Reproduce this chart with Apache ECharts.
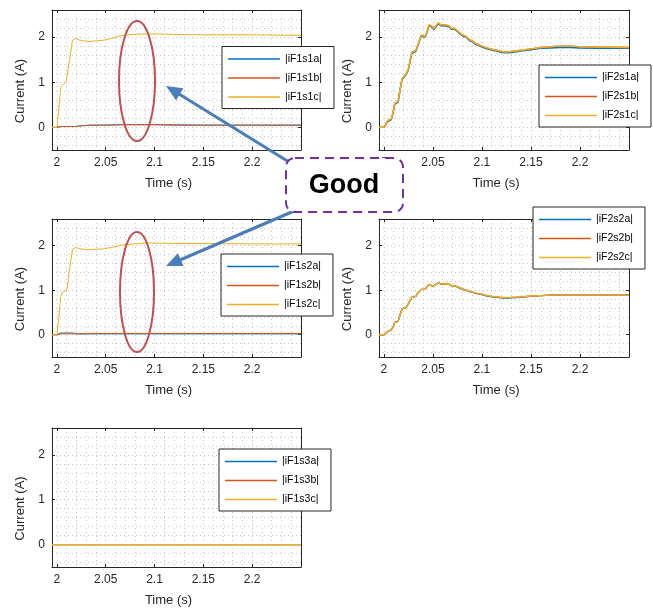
<!DOCTYPE html>
<html><head><meta charset="utf-8">
<script src="https://cdn.jsdelivr.net/npm/echarts@6/dist/echarts.min.js"></script>
<style>html,body{margin:0;padding:0;background:#fff}#c{width:653px;height:609px}</style>
</head><body><div id="c"></div>
<script>
// ---------- data ----------
const timeTicks = [2, 2.05, 2.1, 2.15, 2.2];
const currentTicks = [0, 1, 2];

// F1 switch currents (panels 1 and 3)
const tF1 = [1.995, 2.0, 2.0015, 2.004, 2.0055, 2.0095, 2.0105, 2.013, 2.016, 2.019, 2.022, 2.027, 2.034, 2.041, 2.048, 2.056, 2.065, 2.078, 2.09, 2.1, 2.12, 2.15, 2.2, 2.25];
const iF1s1a = [0, 0, 0.01, 0.02, 0.02, 0.02, 0.02, 0.02, 0.02, 0.02, 0.03, 0.04, 0.05, 0.05, 0.05, 0.05, 0.06, 0.06, 0.06, 0.06, 0.05, 0.05, 0.05, 0.05];
const iF1s1b = [0, 0, 0.01, 0.02, 0.02, 0.02, 0.02, 0.02, 0.02, 0.02, 0.03, 0.04, 0.05, 0.05, 0.05, 0.06, 0.06, 0.06, 0.06, 0.06, 0.06, 0.05, 0.05, 0.05];
const iF1s1c = [0, 0, 0.3, 0.88, 0.93, 1.02, 1.06, 1.5, 1.93, 1.97, 1.94, 1.92, 1.90, 1.92, 1.93, 1.97, 2.03, 2.06, 2.07, 2.07, 2.06, 2.05, 2.05, 2.04];
const iF1s2a = [0, 0, 0.03, 0.04, 0.04, 0.04, 0.04, 0.04, 0.04, 0.03, 0.02, 0.02, 0.02, 0.02, 0.02, 0.02, 0.02, 0.02, 0.02, 0.02, 0.02, 0.02, 0.02, 0.02];
const iF1s2b = [0, 0, 0.01, 0.02, 0.02, 0.02, 0.02, 0.02, 0.02, 0.02, 0.02, 0.02, 0.03, 0.03, 0.03, 0.03, 0.03, 0.03, 0.03, 0.03, 0.03, 0.03, 0.03, 0.03];
const iF1s2c = [0, 0, 0.28, 0.86, 0.95, 1.0, 1.05, 1.48, 1.92, 1.96, 1.94, 1.92, 1.91, 1.92, 1.93, 1.96, 2.01, 2.04, 2.06, 2.06, 2.05, 2.05, 2.04, 2.04];

// F2 switch currents (panels 2 and 4)
const tF2 = [1.995, 2.0, 2.002, 2.004, 2.0075, 2.0095, 2.011, 2.0145, 2.0165, 2.0185, 2.0225, 2.025, 2.0285, 2.0325, 2.035, 2.038, 2.042, 2.044, 2.046, 2.0485, 2.051, 2.0535, 2.0557, 2.058, 2.06, 2.062, 2.064, 2.0665, 2.069, 2.0725, 2.076, 2.08, 2.0835, 2.087, 2.0905, 2.0935, 2.097, 2.1, 2.105, 2.11, 2.115, 2.12, 2.125, 2.13, 2.14, 2.15, 2.16, 2.17, 2.18, 2.19, 2.2, 2.22, 2.25];
const iF2s1a = [0, 0, 0.01, 0.13, 0.17, 0.33, 0.51, 0.56, 0.83, 1.06, 1.16, 1.28, 1.64, 1.68, 1.83, 2.02, 2.0, 2.10, 2.25, 2.23, 2.17, 2.24, 2.30, 2.25, 2.21, 2.25, 2.28, 2.23, 2.17, 2.17, 2.10, 2.03, 2.0, 1.93, 1.89, 1.84, 1.81, 1.78, 1.74, 1.71, 1.69, 1.66, 1.65, 1.66, 1.69, 1.72, 1.75, 1.76, 1.77, 1.77, 1.76, 1.75, 1.75];
const iF2s1b = [0, 0, 0.02, 0.15, 0.19, 0.35, 0.53, 0.58, 0.85, 1.08, 1.18, 1.30, 1.66, 1.70, 1.85, 2.04, 2.02, 2.12, 2.27, 2.25, 2.19, 2.26, 2.32, 2.27, 2.23, 2.27, 2.30, 2.25, 2.19, 2.19, 2.12, 2.05, 2.02, 1.95, 1.91, 1.86, 1.83, 1.80, 1.76, 1.73, 1.71, 1.68, 1.67, 1.68, 1.71, 1.74, 1.77, 1.79, 1.80, 1.80, 1.79, 1.78, 1.77];
const iF2s1c = [0, 0, 0.02, 0.15, 0.19, 0.35, 0.53, 0.58, 0.85, 1.08, 1.18, 1.30, 1.66, 1.70, 1.85, 2.04, 2.02, 2.12, 2.27, 2.25, 2.19, 2.26, 2.32, 2.27, 2.23, 2.27, 2.30, 2.25, 2.19, 2.19, 2.12, 2.05, 2.02, 1.95, 1.91, 1.86, 1.83, 1.80, 1.76, 1.73, 1.71, 1.68, 1.67, 1.68, 1.71, 1.74, 1.77, 1.79, 1.80, 1.80, 1.79, 1.78, 1.77];
const iF2s2a = [0, 0, 0.01, 0.07, 0.11, 0.18, 0.28, 0.30, 0.45, 0.58, 0.61, 0.70, 0.84, 0.86, 0.95, 1.02, 1.02, 1.08, 1.13, 1.10, 1.10, 1.14, 1.17, 1.14, 1.12, 1.14, 1.15, 1.13, 1.10, 1.10, 1.06, 1.02, 1.0, 0.97, 0.95, 0.93, 0.91, 0.90, 0.87, 0.85, 0.84, 0.83, 0.82, 0.83, 0.84, 0.86, 0.88, 0.89, 0.89, 0.89, 0.89, 0.89, 0.89];
const iF2s2b = [0, 0, 0.01, 0.07, 0.11, 0.18, 0.28, 0.30, 0.45, 0.58, 0.61, 0.70, 0.84, 0.86, 0.95, 1.02, 1.02, 1.08, 1.13, 1.10, 1.10, 1.14, 1.17, 1.14, 1.12, 1.14, 1.15, 1.13, 1.10, 1.10, 1.07, 1.03, 1.01, 0.98, 0.96, 0.94, 0.92, 0.91, 0.88, 0.86, 0.85, 0.84, 0.83, 0.84, 0.85, 0.87, 0.88, 0.89, 0.89, 0.89, 0.89, 0.89, 0.89];
const iF2s2c = [0, 0, 0.01, 0.07, 0.11, 0.18, 0.28, 0.30, 0.45, 0.58, 0.61, 0.70, 0.84, 0.86, 0.95, 1.02, 1.02, 1.08, 1.13, 1.10, 1.10, 1.14, 1.17, 1.14, 1.12, 1.14, 1.15, 1.13, 1.10, 1.10, 1.07, 1.03, 1.01, 0.98, 0.96, 0.94, 0.92, 0.91, 0.88, 0.86, 0.85, 0.84, 0.83, 0.84, 0.85, 0.87, 0.88, 0.89, 0.89, 0.89, 0.89, 0.89, 0.89];

// F1 s3 currents (panel 5)
const tF3 = [1.995, 2.0, 2.1, 2.2, 2.25];
const iF1s3a = [0, 0, 0, 0, 0];
const iF1s3b = [0, 0, 0, 0, 0];
const iF1s3c = [0, 0, 0, 0, 0];

// ---------- layout / style ----------
const FONT = '"Liberation Sans", Arial, sans-serif';
const AX = '#262626';
const GRIDC = '#c6c6c6';
const COLORS = ['#0072BD', '#D95319', '#EDB120'];
const grids = [
  {left: 52, top: 10, width: 249, height: 140},
  {left: 379, top: 10, width: 250, height: 140},
  {left: 52, top: 219, width: 249, height: 138},
  {left: 379, top: 219, width: 250, height: 138},
  {left: 52, top: 428, width: 249, height: 139}
];
const XMIN = 1.995, XMAX = 2.25, YMIN = -0.5, YMAX = 2.6;
const timeGrid = [];
for (let k = 0; k <= 24; k++) timeGrid.push(+(2 + k * 0.01).toFixed(2));
const currentGrid = [];
for (let k = -2; k <= 13; k++) currentGrid.push(+(k * 0.2).toFixed(1));
const fmt = v => String(+(+v).toFixed(2));

const xAxes = [], yAxes = [];
grids.forEach((g, i) => {
  xAxes.push({
    gridIndex: i, type: 'value', min: XMIN, max: XMAX, position: 'bottom',
    axisLine: {show: true, onZero: false, lineStyle: {color: AX, width: 1}},
    axisTick: {show: true, inside: true, length: 3, customValues: timeTicks, lineStyle: {color: AX}},
    axisLabel: {customValues: timeTicks, formatter: fmt, margin: 7, fontSize: 12, color: AX, fontFamily: FONT},
    splitLine: {show: false},
    name: 'Time (s)', nameLocation: 'middle', nameGap: 27,
    nameTextStyle: {fontSize: 13, color: AX, fontFamily: FONT, padding: [0, 16, 0, 0]}
  });
  xAxes.push({
    gridIndex: i, type: 'value', min: XMIN, max: XMAX, position: 'top',
    axisLine: {show: true, onZero: false, lineStyle: {color: AX, width: 1}},
    axisTick: {show: true, inside: true, length: 3, customValues: timeTicks, lineStyle: {color: AX}},
    axisLabel: {show: false}, splitLine: {show: false}
  });
  xAxes.push({
    gridIndex: i, type: 'value', min: XMIN, max: XMAX, position: 'bottom',
    axisLine: {show: false}, axisTick: {show: false, customValues: timeGrid},
    axisLabel: {show: false},
    splitLine: {show: true, lineStyle: {color: GRIDC, width: 1, type: [1, 3]}}
  });
  yAxes.push({
    gridIndex: i, type: 'value', min: YMIN, max: YMAX, position: 'left',
    axisLine: {show: true, onZero: false, lineStyle: {color: AX, width: 1}},
    axisTick: {show: true, inside: true, length: 3, customValues: currentTicks, lineStyle: {color: AX}},
    axisLabel: {customValues: currentTicks, formatter: fmt, margin: 7, fontSize: 12, color: AX, fontFamily: FONT},
    splitLine: {show: false},
    name: 'Current (A)', nameLocation: 'middle', nameGap: 25,
    nameTextStyle: {fontSize: 13, color: AX, fontFamily: FONT, padding: [0, 22, 0, 0]}
  });
  yAxes.push({
    gridIndex: i, type: 'value', min: YMIN, max: YMAX, position: 'right',
    axisLine: {show: true, onZero: false, lineStyle: {color: AX, width: 1}},
    axisTick: {show: true, inside: true, length: 3, customValues: currentTicks, lineStyle: {color: AX}},
    axisLabel: {show: false}, splitLine: {show: false}
  });
  yAxes.push({
    gridIndex: i, type: 'value', min: YMIN, max: YMAX, position: 'left',
    axisLine: {show: false}, axisTick: {show: false, customValues: currentGrid},
    axisLabel: {show: false},
    splitLine: {show: true, lineStyle: {color: GRIDC, width: 1, type: [1, 3]}}
  });
});

const pairs = (t, v) => t.map((x, k) => [x, v[k]]);
const panels = [
  {t: tF1, names: ['|iF1s1a|', '|iF1s1b|', '|iF1s1c|'], vals: [iF1s1a, iF1s1b, iF1s1c], w: 1, legend: [222, 46.5]},
  {t: tF2, names: ['|iF2s1a|', '|iF2s1b|', '|iF2s1c|'], vals: [iF2s1a, iF2s1b, iF2s1c], w: 1.4, legend: [539, 65]},
  {t: tF1, names: ['|iF1s2a|', '|iF1s2b|', '|iF1s2c|'], vals: [iF1s2a, iF1s2b, iF1s2c], w: 1, legend: [221, 254]},
  {t: tF2, names: ['|iF2s2a|', '|iF2s2b|', '|iF2s2c|'], vals: [iF2s2a, iF2s2b, iF2s2c], w: 1.3, legend: [533, 207]},
  {t: tF3, names: ['|iF1s3a|', '|iF1s3b|', '|iF1s3c|'], vals: [iF1s3a, iF1s3b, iF1s3c], w: 1.3, legend: [219, 449]}
];
const series = [], legends = [];
panels.forEach((p, i) => {
  p.names.forEach((n, k) => {
    series.push({
      type: 'line', name: n, xAxisIndex: 3 * i, yAxisIndex: 3 * i,
      data: pairs(p.t, p.vals[k]), symbol: 'none', showSymbol: false,
      lineStyle: {width: p.w, color: COLORS[k]}, itemStyle: {color: COLORS[k]},
      z: 3 + k, animation: false
    });
  });
  legends.push({
    show: true, data: p.names, left: p.legend[0], top: p.legend[1], orient: 'vertical',
    itemWidth: 52, itemHeight: 1.5, itemGap: 6, icon: 'rect',
    padding: [6, 12, 5, 6], backgroundColor: '#fff', borderColor: AX, borderWidth: 1, borderRadius: 0,
    selectedMode: false,
    textStyle: {fontSize: 10.5, lineHeight: 13, color: '#000', fontFamily: FONT}
  });
});

const ARROW = '#4A7EBB', RED = '#C0504D', PURPLE = '#7030A0';
const graphic = [
  {type: 'ellipse', shape: {cx: 137, cy: 81, rx: 18, ry: 60}, style: {fill: null, stroke: RED, lineWidth: 2}, z: 100},
  {type: 'ellipse', shape: {cx: 137, cy: 292, rx: 17, ry: 60}, style: {fill: null, stroke: RED, lineWidth: 2}, z: 100},
  {type: 'line', shape: {x1: 289, y1: 162, x2: 179, y2: 94}, style: {stroke: ARROW, lineWidth: 3}, z: 100},
  {type: 'polygon', shape: {points: [[166, 86], [183.3, 88.3], [176.1, 100.3]]}, style: {fill: ARROW}, z: 100},
  {type: 'line', shape: {x1: 294, y1: 211, x2: 180, y2: 260}, style: {stroke: ARROW, lineWidth: 3}, z: 100},
  {type: 'polygon', shape: {points: [[166, 266], [177.9, 253.3], [183.5, 266.1]]}, style: {fill: ARROW}, z: 100},
  {type: 'rect', shape: {x: 286, y: 158, width: 117, height: 54, r: 9},
   style: {fill: '#fff', stroke: PURPLE, lineWidth: 2, lineDash: [9, 6]}, z: 101},
  {type: 'text', x: 344, y: 186, z: 102,
   style: {text: 'Good', font: 'bold 27px "Liberation Sans", Arial, sans-serif', fill: '#000',
           align: 'center', verticalAlign: 'middle', textAlign: 'center', textVerticalAlign: 'middle'}}
];

const chart = echarts.init(document.getElementById('c'), null, {renderer: 'canvas'});
chart.setOption({
  animation: false,
  backgroundColor: '#fff',
  grid: grids,
  xAxis: xAxes,
  yAxis: yAxes,
  legend: legends,
  series: series,
  graphic: graphic
});
</script></body></html>
